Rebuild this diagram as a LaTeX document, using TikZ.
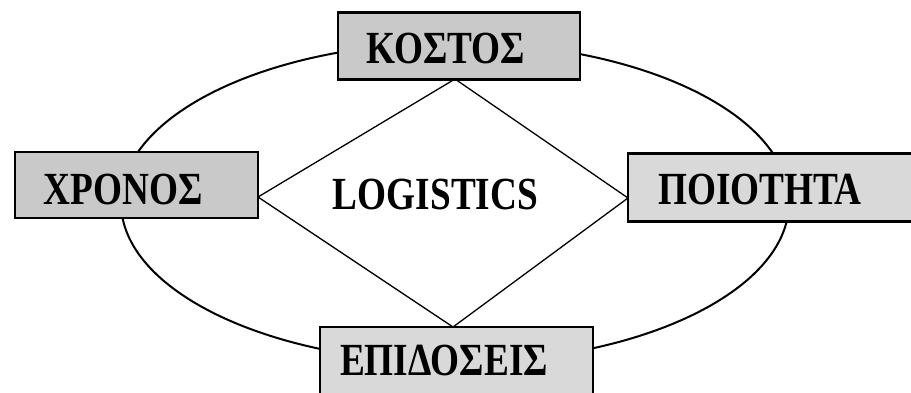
\documentclass[tikz,border=0pt]{standalone}
\usepackage{fontspec}
\newfontfamily\gk[FakeStretch=0.81]{Liberation Serif}
\begin{document}
\begin{tikzpicture}[x=1pt,y=-1pt,
  box/.style={draw=black, line width=2.6pt, fill=gray!30, inner sep=0pt},
  darkbox/.style={box, fill=gray!42},
  lbl/.style={inner sep=0pt, font=\gk\bfseries\fontsize{46}{46}\selectfont},
  ring/.style={draw=black, line width=2pt},
  edge/.style={draw=black, line width=1.3pt}]
\useasboundingbox (0,0) rectangle (911,392);
\fill[white] (0,0) rectangle (911,392);
% ellipse
\draw[ring] (455,202.5) ellipse [x radius=334, y radius=160];
% diamond vertices
\coordinate (dt) at (455,79);
\coordinate (dl) at (258,197);
\coordinate (dr) at (628,198);
\coordinate (db) at (453,327);
\draw[edge] (dt) -- (dl) -- (db) -- (dr) -- cycle;
% boxes
\node[darkbox, minimum width=242pt, minimum height=67pt] (kostos) at (459,46) {};
\node[darkbox, minimum width=243pt, minimum height=66pt] (xronos) at (136.5,185) {};
\node[box, minimum width=287pt, minimum height=68pt] (poiotita) at (771.5,187.5) {};
\node[box, minimum width=273pt, minimum height=72pt] (epidoseis) at (456.5,363) {};
% labels
\node[lbl] (tk) at (446,48) {ΚΟΣΤΟΣ};
\node[lbl] (tx) at (123,189) {ΧΡΟΝΟΣ};
\node[lbl] (tp) at (760,189) {ΠΟΙΟΤΗΤΑ};
\node[lbl] (te) at (444,360) {ΕΠΙΔΟΣΕΙΣ};
\node[lbl] (tl) at (435.5,194) {LOGISTICS};
\end{tikzpicture}
\end{document}
